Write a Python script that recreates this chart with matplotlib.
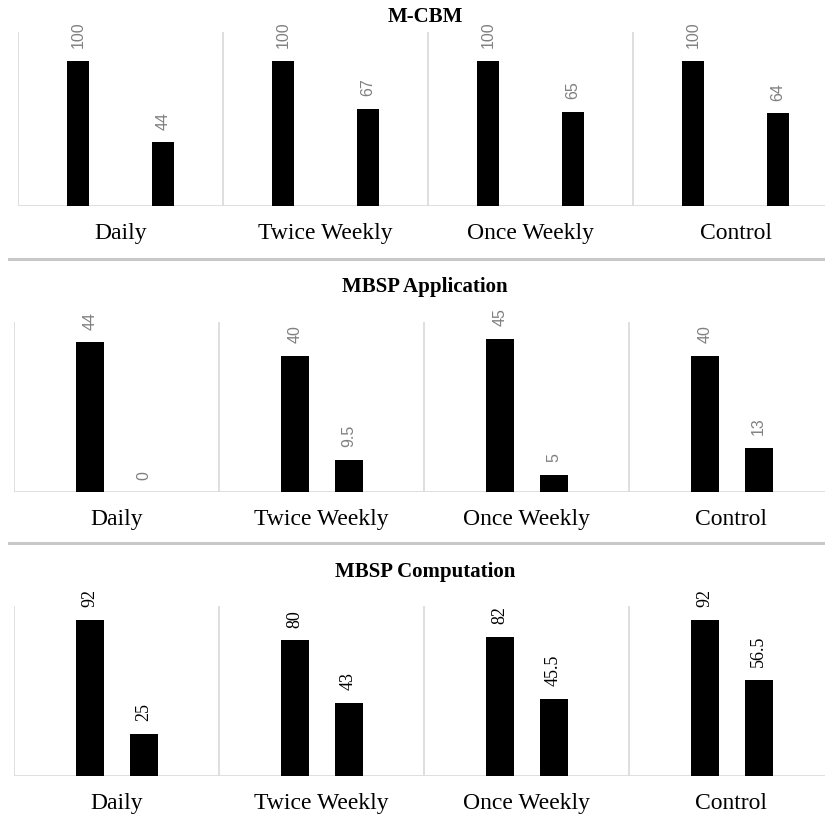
import numpy as np
import matplotlib.pyplot as plt
from matplotlib.lines import Line2D

groups = ["Daily", "Twice Weekly", "Once Weekly", "Control"]

mcbm_first = [100, 100, 100, 100]
mcbm_second = [44, 67, 65, 64]

app_first = [44, 40, 45, 40]
app_second = [0, 9.5, 5, 13]

comp_first = [92, 80, 82, 92]
comp_second = [25, 43, 45.5, 56.5]

W, H = 825, 816
fig = plt.figure(figsize=(W / 100, H / 100), dpi=100)

grid_col = "#d9d9d9"


def panel(left_px, base_px, top_px, title, title_y, first, second, ymax,
          centers, width, lab_font, lab_col, lab_size):
    ax = fig.add_axes([left_px / W, 1 - base_px / H,
                       (W - left_px) / W, (base_px - top_px) / H])
    x = np.arange(len(groups))
    b1 = ax.bar(x + centers[0], first, width, color="black")
    b2 = ax.bar(x + centers[1], second, width, color="black")
    ax.set_xlim(0, (W - left_px) / 205)
    ax.set_ylim(0, ymax)
    for s in ax.spines.values():
        s.set_visible(False)
    ax.axhline(0, color=grid_col, lw=1.2, zorder=0)
    for g in range(len(groups)):
        ax.axvline(g, color=grid_col, lw=1.2, zorder=0)
    ax.set_yticks([])
    ax.set_xticks(x + 0.5)
    ax.set_xticklabels(groups, family="Liberation Serif", fontsize=17)
    ax.tick_params(axis="x", length=0, pad=12)
    for bars, vals in ((b1, first), (b2, second)):
        for r, v in zip(bars, vals):
            ax.annotate(f"{v:g}", (r.get_x() + r.get_width() / 2, v),
                        xytext=(0, 9), textcoords="offset points",
                        rotation=90, ha="center", va="bottom",
                        family=lab_font, color=lab_col, fontsize=lab_size)
    fig.text(425 / W, 1 - title_y / H, title, ha="center", va="center",
             family="Liberation Serif", weight="bold", fontsize=15)
    return ax


panel(18, 206, 32, "M-CBM", 17, mcbm_first, mcbm_second, 120,
      (60 / 205, 145 / 205), 22 / 205, "Liberation Sans", "#808080", 11.5)
panel(14, 492, 322, "MBSP Application", 287, app_first, app_second, 50,
      (76 / 205, 129.5 / 205), 28 / 205, "Liberation Sans", "#808080", 11.5)
panel(14, 776, 606, "MBSP Computation", 572, comp_first, comp_second, 100,
      (76 / 205, 129.5 / 205), 28 / 205, "Liberation Serif", "black", 13)

for yp in (259, 543):
    fig.add_artist(Line2D([9 / W, 1], [1 - yp / H, 1 - yp / H],
                          color="#c8c8c8", lw=2.2, transform=fig.transFigure))

fig.savefig("out.png", dpi=100)
